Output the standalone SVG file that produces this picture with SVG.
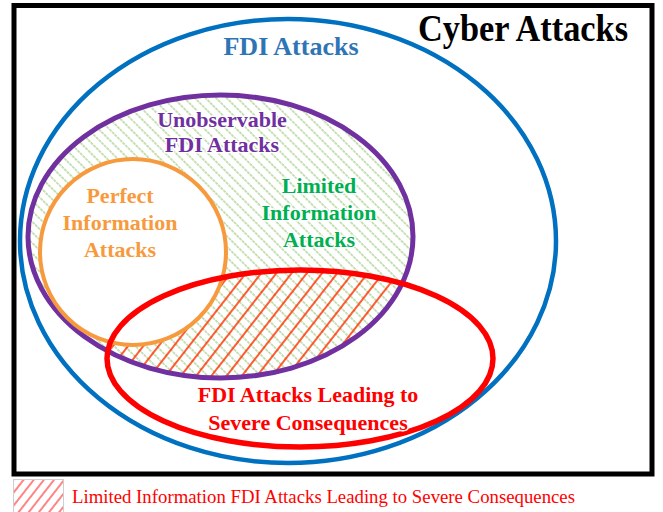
<svg xmlns="http://www.w3.org/2000/svg" width="663" height="512" viewBox="0 0 663 512">
  <style>
    .t { font-family: "Liberation Serif", "Times New Roman", serif; font-weight: bold; text-anchor: middle; font-size: 22px; paint-order: stroke; stroke: #ffffff; stroke-width: 3px; stroke-linejoin: round; }
    .ring { fill: none; }
  </style>
  <defs>
    <pattern id="greenHatch" patternUnits="userSpaceOnUse" width="7.5" height="7.5" patternTransform="rotate(-45)">
      <line x1="1" y1="0" x2="1" y2="7.5" stroke="#A9D18E" stroke-width="1.3" stroke-dasharray="3 0.8"/>
    </pattern>
    <pattern id="redHatch" patternUnits="userSpaceOnUse" width="12" height="12" patternTransform="rotate(38)">
      <line x1="2" y1="0" x2="2" y2="12" stroke="#FF3300" stroke-width="1.6"/>
    </pattern>
    <pattern id="legendHatch" patternUnits="userSpaceOnUse" width="8" height="8" patternTransform="rotate(38)">
      <line x1="2" y1="0" x2="2" y2="8" stroke="#FF5050" stroke-width="1.4"/>
    </pattern>
    <clipPath id="purpleClip">
      <ellipse cx="220.5" cy="236.5" rx="192.5" ry="141.5"/>
    </clipPath>
  </defs>

  <rect x="0" y="0" width="663" height="512" fill="#ffffff"/>

  <g id="cyber-attacks">
    <rect x="14" y="5.5" width="638" height="468.5" fill="#ffffff" stroke="#000000" stroke-width="5"/>
    <text x="418" y="41" font-family="Liberation Serif, Times New Roman, serif" font-weight="bold" font-size="38" fill="#000000" textLength="210" lengthAdjust="spacingAndGlyphs">Cyber Attacks</text>
  </g>

  <g id="fdi-attacks">
    <ellipse class="ring" cx="288" cy="241" rx="268" ry="222" stroke="#0070C0" stroke-width="4.5"/>
  </g>

  <g id="unobservable-fdi-attacks">
    <ellipse cx="220.5" cy="236.5" rx="192.5" ry="141.5" fill="url(#greenHatch)"/>
  </g>

  <g id="limited-severe-overlap">
    <ellipse cx="300" cy="358.5" rx="193" ry="88.5" fill="url(#redHatch)" clip-path="url(#purpleClip)"/>
  </g>

  <g id="unobservable-outline">
    <ellipse class="ring" cx="220.5" cy="236.5" rx="192.5" ry="141.5" stroke="#7030A0" stroke-width="5"/>
  </g>

  <g id="perfect-information-attacks">
    <circle cx="133" cy="252" r="93" fill="#ffffff" stroke="#F79A3E" stroke-width="4"/>
  </g>

  <g id="severe-consequences">
    <ellipse class="ring" cx="300" cy="358.5" rx="193" ry="88.5" stroke="#FF0000" stroke-width="5.5"/>
  </g>

  <g id="labels">
    <text class="t" x="291" y="55" style="font-size:26px" fill="#2E75B6">FDI Attacks</text>
    <text class="t" x="222" y="127" fill="#7030A0">Unobservable</text>
    <text class="t" x="222" y="152" fill="#7030A0">FDI Attacks</text>
    <text class="t" x="120" y="203" fill="#F79A3E">Perfect</text>
    <text class="t" x="120" y="230" fill="#F79A3E">Information</text>
    <text class="t" x="120" y="257" fill="#F79A3E">Attacks</text>
    <text class="t" x="319" y="193" fill="#00B050">Limited</text>
    <text class="t" x="319" y="220" fill="#00B050">Information</text>
    <text class="t" x="319" y="247" fill="#00B050">Attacks</text>
    <text class="t" x="308" y="402" fill="#FF0000">FDI Attacks Leading to</text>
    <text class="t" x="308" y="430" fill="#FF0000">Severe Consequences</text>
  </g>

  <g id="legend">
    <rect x="13.5" y="479.5" width="50" height="34" fill="url(#legendHatch)" stroke="#CFCFCF" stroke-width="1"/>
    <text x="72" y="503" font-family="Liberation Serif, Times New Roman, serif" font-size="18.7" fill="#FF0000" textLength="503" lengthAdjust="spacingAndGlyphs">Limited Information FDI Attacks Leading to Severe Consequences</text>
  </g>
</svg>
